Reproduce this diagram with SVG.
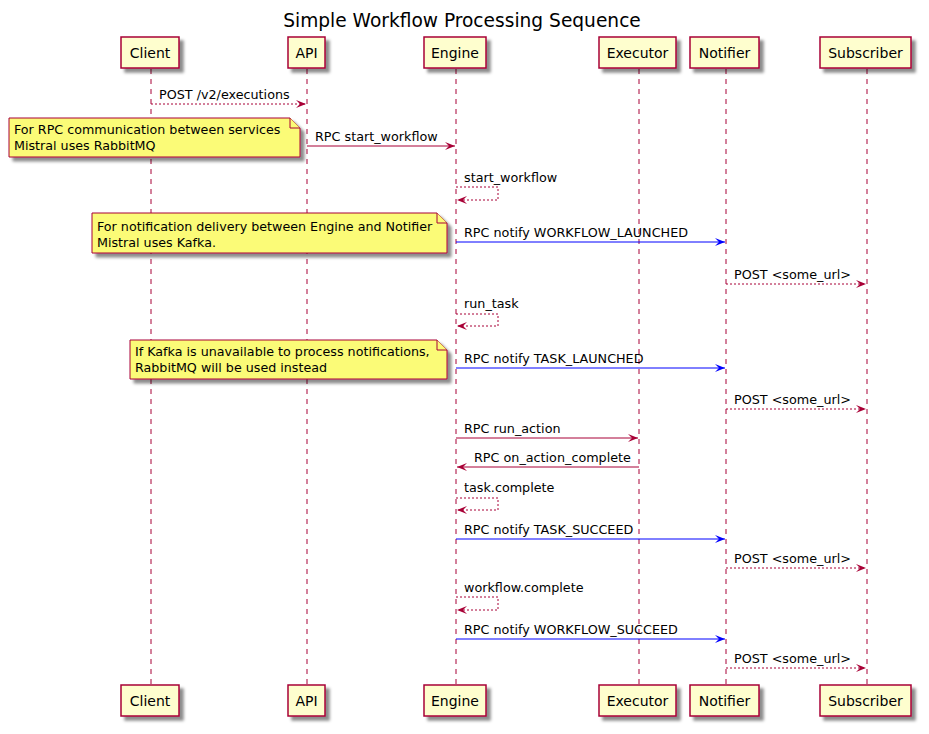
<svg xmlns="http://www.w3.org/2000/svg" width="929" height="734" viewBox="0 0 929 734">
<defs>
<filter id="sh" x="-0.1" y="-0.1" width="1.3" height="1.5">
<feGaussianBlur in="SourceAlpha" stdDeviation="1.7" result="b"/>
<feColorMatrix in="b" type="matrix" values="0 0 0 0 0  0 0 0 0 0  0 0 0 0 0  0 0 0 0.45 0" result="c"/>
<feOffset dx="4" dy="4" in="c" result="o"/>
<feMerge><feMergeNode in="o"/><feMergeNode in="SourceGraphic"/></feMerge>
</filter>
<marker id="ar" viewBox="0 0 10 8" refX="10" refY="4" markerWidth="10" markerHeight="8" markerUnits="userSpaceOnUse" orient="auto">
<path d="M0,0 L10,4 L0,8 L4,4 Z" fill="#A80036"/>
</marker>
<marker id="ab" viewBox="0 0 10 8" refX="10" refY="4" markerWidth="10" markerHeight="8" markerUnits="userSpaceOnUse" orient="auto">
<path d="M0,0 L10,4 L0,8 L4,4 Z" fill="#0000FF"/>
</marker>
</defs>
<style>
text{font-family:"DejaVu Sans",sans-serif;fill:#000}
.p rect{fill:#FEFECE;stroke:#A80036;stroke-width:1.5}
.p text{font-size:14px;text-anchor:middle}
.life{stroke:#A80036;stroke-width:1;stroke-dasharray:5,5;fill:none}
.m{font-size:12.75px}
.s{stroke:#A80036;stroke-width:1;fill:none;marker-end:url(#ar)}
.d{stroke:#A80036;stroke-width:1;fill:none;stroke-dasharray:2,2;marker-end:url(#ar)}
.b{stroke:#0000FF;stroke-width:1;fill:none;marker-end:url(#ab)}
.n path{fill:#FBFB77;stroke:#A80036;stroke-width:1}
.n text{font-size:12.7px}
</style>
<text x="462" y="27" style="font-size:18.6px" text-anchor="middle">Simple Workflow Processing Sequence</text>
<g id="lifelines">
<line class="life" x1="151" y1="69" x2="151" y2="685"/>
<line class="life" x1="307" y1="69" x2="307" y2="685"/>
<line class="life" x1="456" y1="69" x2="456" y2="685"/>
<line class="life" x1="639" y1="69" x2="639" y2="685"/>
<line class="life" x1="726" y1="69" x2="726" y2="685"/>
<line class="life" x1="867" y1="69" x2="867" y2="685"/>
</g>
<g id="client" class="p">
<rect x="121" y="37" width="58" height="31" filter="url(#sh)"/><text x="150" y="58">Client</text>
<rect x="121" y="685" width="58" height="31" filter="url(#sh)"/><text x="150" y="706">Client</text>
</g>
<g id="api" class="p">
<rect x="288" y="37" width="37" height="31" filter="url(#sh)"/><text x="306.5" y="58">API</text>
<rect x="288" y="685" width="37" height="31" filter="url(#sh)"/><text x="306.5" y="706">API</text>
</g>
<g id="engine" class="p">
<rect x="424" y="37" width="62" height="31" filter="url(#sh)"/><text x="455" y="58">Engine</text>
<rect x="424" y="685" width="62" height="31" filter="url(#sh)"/><text x="455" y="706">Engine</text>
</g>
<g id="executor" class="p">
<rect x="599" y="37" width="77" height="31" filter="url(#sh)"/><text x="637.5" y="58">Executor</text>
<rect x="599" y="685" width="77" height="31" filter="url(#sh)"/><text x="637.5" y="706">Executor</text>
</g>
<g id="notifier" class="p">
<rect x="690" y="37" width="69" height="31" filter="url(#sh)"/><text x="724.5" y="58">Notifier</text>
<rect x="690" y="685" width="69" height="31" filter="url(#sh)"/><text x="724.5" y="706">Notifier</text>
</g>
<g id="subscriber" class="p">
<rect x="820" y="37" width="91" height="31" filter="url(#sh)"/><text x="865.5" y="58">Subscriber</text>
<rect x="820" y="685" width="91" height="31" filter="url(#sh)"/><text x="865.5" y="706">Subscriber</text>
</g>
<g id="note1" class="n">
<path d="M9,118 L290,118 L300,128 L300,157 L9,157 Z" filter="url(#sh)"/>
<path d="M290,118 L290,128 L300,128"/>
<text x="14" y="134">For RPC communication between services</text>
<text x="14" y="150">Mistral uses RabbitMQ</text>
</g>
<g id="note2" class="n">
<path d="M92,213 L437,213 L447,223 L447,253 L92,253 Z" filter="url(#sh)"/>
<path d="M437,213 L437,223 L447,223"/>
<text x="97" y="231">For notification delivery between Engine and Notifier</text>
<text x="97" y="247">Mistral uses Kafka.</text>
</g>
<g id="note3" class="n">
<path d="M130,340 L437,340 L447,350 L447,379 L130,379 Z" filter="url(#sh)"/>
<path d="M437,340 L437,350 L447,350"/>
<text x="135" y="356">If Kafka is unavailable to process notifications,</text>
<text x="135" y="372">RabbitMQ will be used instead</text>
</g>
<g id="connectors">
<line class="d" x1="151" y1="104" x2="306" y2="104"/>
<text class="m" x="159" y="99">POST /v2/executions</text>
<line class="s" x1="307" y1="146" x2="455" y2="146"/>
<text class="m" x="315" y="141">RPC start_workflow</text>
<path class="d" d="M456,187 H498 V200 H457"/>
<text class="m" x="464" y="182">start_workflow</text>
<line class="b" x1="456" y1="242" x2="725" y2="242"/>
<text class="m" x="464" y="237">RPC notify WORKFLOW_LAUNCHED</text>
<line class="d" x1="726" y1="284" x2="866" y2="284"/>
<text class="m" x="734" y="279">POST &lt;some_url&gt;</text>
<path class="d" d="M456,314 H498 V326 H457"/>
<text class="m" x="464" y="308">run_task</text>
<line class="b" x1="456" y1="368" x2="725" y2="368"/>
<text class="m" x="464" y="363">RPC notify TASK_LAUNCHED</text>
<line class="d" x1="726" y1="409" x2="866" y2="409"/>
<text class="m" x="734" y="404">POST &lt;some_url&gt;</text>
<line class="s" x1="456" y1="438" x2="638" y2="438"/>
<text class="m" x="464" y="433">RPC run_action</text>
<line class="s" x1="639" y1="467" x2="457" y2="467"/>
<text class="m" x="474" y="462">RPC on_action_complete</text>
<path class="d" d="M456,498 H498 V510 H457"/>
<text class="m" x="464" y="492">task.complete</text>
<line class="b" x1="456" y1="539" x2="725" y2="539"/>
<text class="m" x="464" y="534">RPC notify TASK_SUCCEED</text>
<line class="d" x1="726" y1="568" x2="866" y2="568"/>
<text class="m" x="734" y="563">POST &lt;some_url&gt;</text>
<path class="d" d="M456,597 H498 V610 H457"/>
<text class="m" x="464" y="592">workflow.complete</text>
<line class="b" x1="456" y1="639" x2="725" y2="639"/>
<text class="m" x="464" y="634">RPC notify WORKFLOW_SUCCEED</text>
<line class="d" x1="726" y1="668" x2="866" y2="668"/>
<text class="m" x="734" y="663">POST &lt;some_url&gt;</text>
</g>
</svg>
